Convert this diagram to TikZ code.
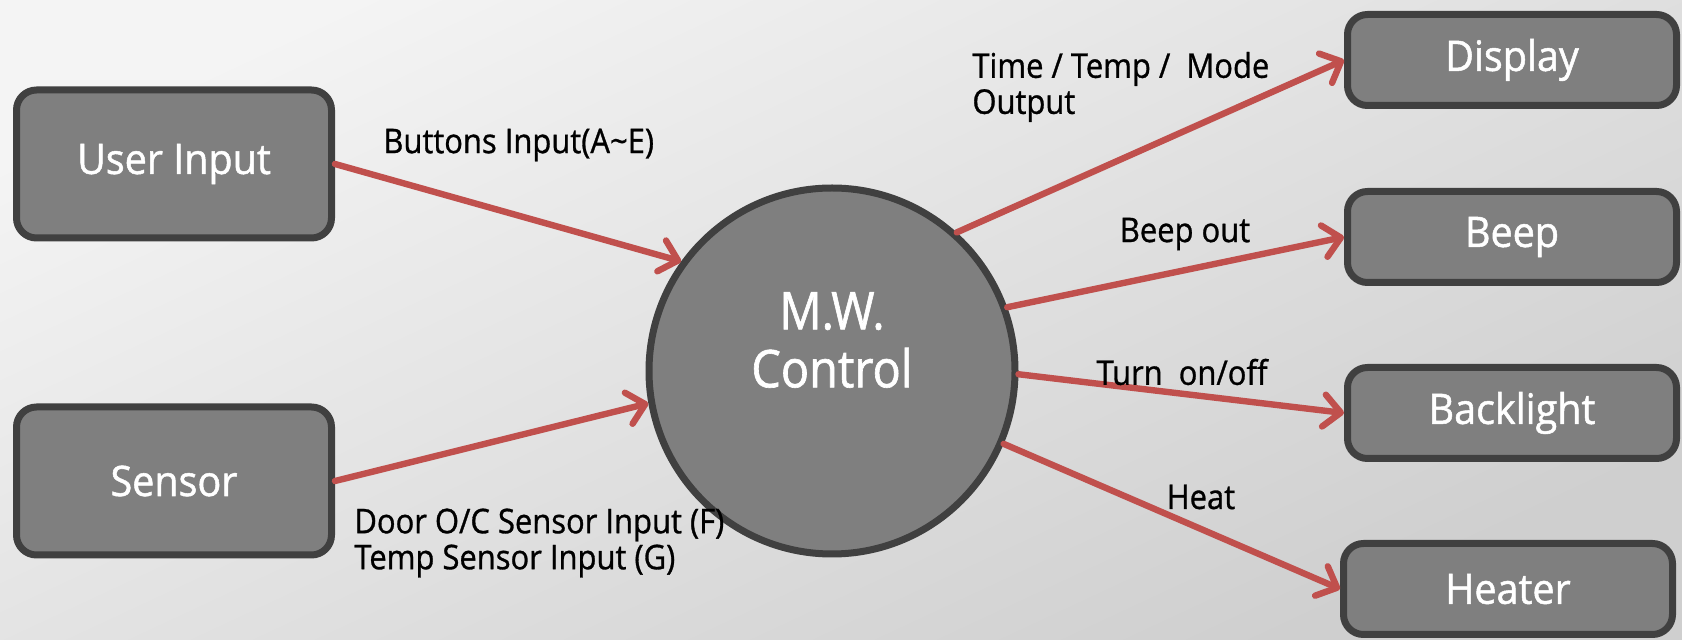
\documentclass[tikz,border=0pt]{standalone}
\usepackage{fontspec}
\setmainfont{Open Sans}
\newfontfamily\boxfont[FakeBold=1.2,FakeStretch=0.94]{Open Sans}
\newfontfamily\hubfont[FakeBold=1.2,FakeStretch=0.9]{Open Sans}
\newfontfamily\lblfont[FakeBold=0.9,FakeStretch=0.91]{Open Sans}
\usetikzlibrary{arrows.meta}
\definecolor{boxfill}{HTML}{7F7F7F}
\definecolor{boxline}{HTML}{404040}
\definecolor{arrowred}{HTML}{C0504D}
\begin{document}
\begin{tikzpicture}[x=0.5pt,y=-0.5pt,
  blockbox/.style={draw=boxline, fill=boxfill, line width=3.5pt, rounded corners=10pt,
    text=white, font=\boxfont\fontsize{21}{25}\selectfont, inner sep=0pt},
  leftbox/.style={blockbox, minimum width=157.5pt, minimum height=74pt},
  rightbox/.style={blockbox, minimum width=164.5pt, minimum height=45.5pt},
  hub/.style={circle, draw=boxline, fill=boxfill, line width=3.5pt, minimum size=183pt, inner sep=0pt},
  hubtext/.style={text=white, align=center, font=\hubfont\fontsize{26}{29}\selectfont, inner sep=0pt},
  flow/.style={draw=arrowred, line width=3.2pt, line cap=round,
    -{Straight Barb[length=8.5pt, width=16pt, round]}},
  lbl/.style={font=\lblfont\fontsize{17}{18}\selectfont, text=black, inner sep=0pt, align=left}]
\shade[top color=gray!9, bottom color=gray!38, shading angle=25] (0,0) rectangle (1682,640);
\useasboundingbox (0,0) rectangle (1682,640);

\node[leftbox] (ui) at (174,164) {User Input};
\node[leftbox] (sen) at (174,481) {Sensor};
\node[hub] (ctl) at (832,371) {};
\node[hubtext] (ctltext) at (832,340) {M.W.\\Control};
\node[rightbox] (disp) at (1512,60) {Display};
\node[rightbox] (beep) at (1512,237) {Beep};
\node[rightbox] (back) at (1512,413) {Backlight};
\node[rightbox] (heat) at (1508,589) {Heater};

\draw[flow] (ui.east) -- (ctl.144);
\draw[flow] (sen.east) -- (ctl.190);
\draw[flow] (ctl.48) -- (disp.west);
\draw[flow] (ctl.20.3) -- (beep.west);
\draw[flow] (ctl.-1) -- (back.west);
\draw[flow] (ctl.-23.5) -- (heat.west);

\node[lbl, anchor=west] (l1) at (383,145) {Buttons Input(A\textasciitilde E)};
\node[lbl, anchor=west] (l2) at (354,543) {Door O/C Sensor Input (F)\\Temp Sensor Input (G)};
\node[lbl, anchor=west] (l3) at (972,87) {Time / Temp /~ Mode\\Output};
\node[lbl] (l4) at (1185,234) {Beep out};
\node[lbl] (l5) at (1182,372) {Turn~ on/off};
\node[lbl] (l6) at (1201,497) {Heat};
\end{tikzpicture}
\end{document}
